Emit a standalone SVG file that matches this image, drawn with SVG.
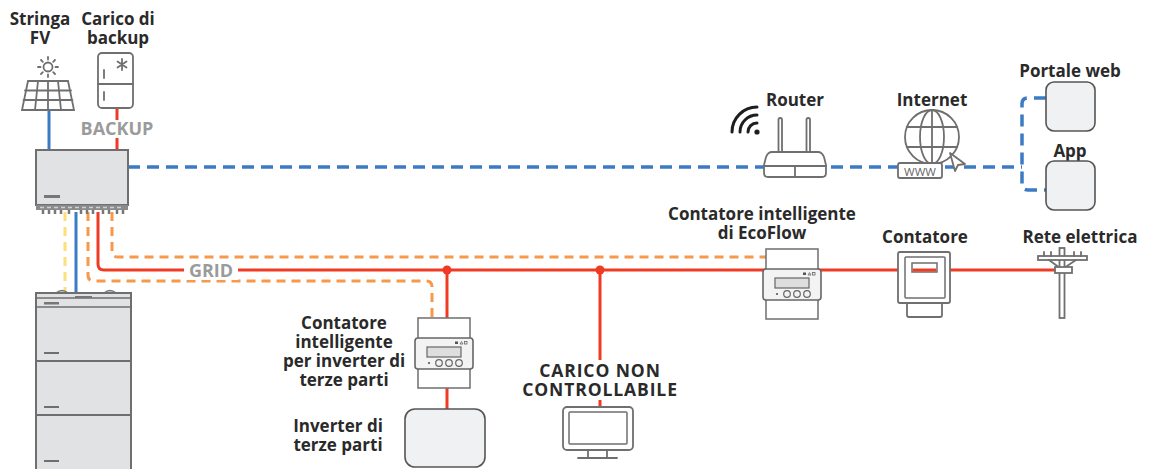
<svg xmlns="http://www.w3.org/2000/svg" xmlns:xlink="http://www.w3.org/1999/xlink" width="1149" height="469" viewBox="0 0 1149 469">
  <style>
    .lbl { font-family: "Open Sans", "Liberation Sans", sans-serif; font-weight: 700; font-size: 17px; fill: #2a2a2a; text-anchor: middle; }
    .caps { font-size: 17.5px; letter-spacing: 0.9px; }
    .tag { font-family: "Open Sans", "Liberation Sans", sans-serif; font-weight: 700; font-size: 18px; fill: #9b9b9b; text-anchor: middle; }
    .icon { fill: #ffffff; stroke: #6f6f6f; stroke-width: 1.8; }
    .line-icon { fill: none; stroke: #6f6f6f; stroke-width: 1.8; stroke-linecap: round; }
    .dev { fill: #e1e2e4; stroke: #6f6f6f; stroke-width: 2; }
    .box { fill: #f0f1f3; stroke: #555555; stroke-width: 1.6; }
    .comm { fill: none; stroke: #3b7bc4; stroke-width: 3.5; stroke-dasharray: 12 7; }
    .ctl { fill: none; stroke: #f7984a; stroke-width: 3; stroke-dasharray: 9 6; }
    .pwr { fill: none; stroke: #ef3b24; stroke-width: 3; }
    .dc { fill: none; stroke: #3b7bc4; stroke-width: 3; }
    .bat { fill: none; stroke: #fbe07c; stroke-width: 3; stroke-dasharray: 9 6; }
  </style>
  <defs>
    <!-- DIN-rail energy meter, origin at body top-left -->
    <g id="din-meter">
      <rect x="0" y="0" width="52" height="70" fill="#ffffff" stroke="#777" stroke-width="1.6"/>
      <rect x="-3" y="20" width="58" height="31" rx="3" fill="#f3f3f3" stroke="#666" stroke-width="1.6"/>
      <rect x="9" y="29" width="34" height="10" fill="#dedede" stroke="#666" stroke-width="1.2"/>
      <circle cx="11" cy="45" r="1.1" fill="#555"/>
      <circle cx="21" cy="45" r="3.3" fill="none" stroke="#666" stroke-width="1.2"/>
      <circle cx="31" cy="45" r="3.3" fill="none" stroke="#666" stroke-width="1.2"/>
      <circle cx="41" cy="45" r="3.3" fill="none" stroke="#666" stroke-width="1.2"/>
      <rect x="37" y="23.5" width="3" height="2.5" fill="#555"/>
      <path d="M42,26 L43.5,23.5 L45,26 Z" fill="none" stroke="#666" stroke-width="0.8"/>
      <rect x="46.5" y="23.5" width="2.5" height="2.5" fill="none" stroke="#666" stroke-width="0.8"/>
    </g>
  </defs>

  <!-- connectors -->
  <g id="connectors">
    <!-- PV string to inverter -->
    <path class="dc" d="M49,110 V150"/>
    <!-- backup load -->
    <path class="pwr" d="M117,108 V120 M117,138 V150"/>
    <!-- inverter to battery -->
    <path class="bat" d="M65,212 V292"/>
    <path class="dc" d="M76,212 V292"/>
    <!-- communication -->
    <path class="comm" d="M128,167 H1022"/>
    <path class="comm" d="M1046,98 H1028 Q1022,98 1022,104 V184 Q1022,190 1028,190 H1046"/>
    <!-- meter control lines -->
    <path class="ctl" d="M112,212 V251 Q112,257 118,257 H766"/>
    <path class="ctl" d="M88,212 V275 Q88,281 94,281 H426 Q432,281 432,287 V318"/>
    <!-- grid line -->
    <path class="pwr" d="M98,212 V264 Q98,270 104,270 H1058"/>
    <path class="pwr" d="M447,270 V409"/>
    <path class="pwr" d="M600,270 V360 M600,400 V408"/>
    <circle cx="447" cy="270" r="4.5" fill="#ef3b24"/>
    <circle cx="600" cy="270" r="4.5" fill="#ef3b24"/>
    <rect x="184" y="260" width="54" height="20" fill="#ffffff"/>
    <text class="tag" x="211" y="276.5">GRID</text>
    <text class="tag" x="117" y="135">BACKUP</text>
  </g>

  <!-- PV string -->
  <g id="pv-string">
    <text class="lbl" x="40" y="25">Stringa</text>
    <text class="lbl" x="40" y="44">FV</text>
    <circle cx="48" cy="67" r="4.5" class="line-icon"/>
    <path class="line-icon" d="M48,57 V59.5 M48,74.5 V77 M38,67 H40.5 M55.5,67 H58 M41,60 L42.8,61.8 M53.2,72.2 L55,74 M55,60 L53.2,61.8 M42.8,72.2 L41,74"/>
    <path class="line-icon" d="M28,81 H68 L74,110 H22 Z M25,90.5 H71 M23.5,100 H72.5 M38,81 L35,110 M48,81 V110 M58,81 L61,110"/>
  </g>

  <!-- backup load (fridge) -->
  <g id="backup-load">
    <text class="lbl" x="118" y="25">Carico di</text>
    <text class="lbl" x="118" y="44">backup</text>
    <rect x="98" y="53" width="35" height="55" rx="4" class="icon"/>
    <path class="line-icon" d="M98,84 H133 M104,70 V78 M104,92 V100"/>
    <path class="line-icon" d="M122,59 V70 M117.5,61.5 L126.5,67.5 M126.5,61.5 L117.5,67.5"/>
  </g>

  <!-- hybrid inverter -->
  <g id="inverter">
    <rect x="36" y="150" width="92" height="55" class="dev"/>
    <rect x="44" y="195" width="16" height="3" fill="#777"/>
    <rect x="36" y="205" width="92" height="5" fill="#8a8a8a"/>
    <path d="M40,207.5 H124" stroke="#d0d0d0" stroke-width="1.4" stroke-dasharray="4 3"/>
    <path d="M43,210 V214 M49,210 V214 M55,210 V214 M61,210 V214 M69,210 V214 M81,210 V214 M87,210 V214 M93,210 V214 M103,210 V214 M109,210 V214 M117,210 V214 M123,210 V214" stroke="#777" stroke-width="2.5"/>
  </g>

  <!-- battery stack -->
  <g id="battery">
    <path d="M56,293 Q62,288 68,293 M104,293 Q110,288 116,293" fill="#e1e2e4" stroke="#777" stroke-width="1.5"/>
    <rect x="36" y="293" width="95" height="180" class="dev"/>
    <path d="M36,298 H131 M36,307 H131" stroke="#6f6f6f" stroke-width="1.6"/>
    <rect x="75" y="296" width="17" height="2" fill="#777"/>
    <rect x="44" y="302" width="15" height="2.5" fill="#777"/>
    <path d="M36,361 H131 M36,415 H131" stroke="#6f6f6f" stroke-width="2"/>
    <path d="M44,353 H59 M44,407 H59 M44,461 H59" stroke="#6f6f6f" stroke-width="2"/>
  </g>

  <!-- router -->
  <g id="router">
    <text class="lbl" x="795" y="106">Router</text>
    <path d="M748,132 A9,9 0 0 1 757,123 M740,132 A17,17 0 0 1 757,115 M732,132 A25,25 0 0 1 757,107" fill="none" stroke="#1e1e1e" stroke-width="3" stroke-linecap="round"/>
    <circle cx="757" cy="132" r="2.6" fill="#1e1e1e"/>
    <rect x="778.5" y="118" width="3.5" height="36" rx="1.7" class="icon" stroke-width="1.4"/>
    <rect x="806.5" y="118" width="3.5" height="36" rx="1.7" class="icon" stroke-width="1.4"/>
    <path d="M772,152 H818 Q822,152 824,157 L826,165 V173 Q826,177 822,177 H768 Q764,177 764,173 V165 L766,157 Q768,152 772,152 Z" class="icon"/>
    <path class="line-icon" d="M764,166 H826 M795,166 V177"/>
  </g>

  <!-- internet -->
  <g id="internet">
    <text class="lbl" x="932" y="106">Internet</text>
    <circle cx="932" cy="137" r="27" class="icon"/>
    <ellipse cx="932" cy="137" rx="12" ry="27" class="line-icon"/>
    <path class="line-icon" d="M932,110 V164 M907,127 H957 M907,147 H957"/>
    <rect x="898" y="163" width="44" height="15" rx="2" class="icon" stroke-width="1.5"/>
    <text x="920" y="175.5" font-family="Open Sans, Liberation Sans, sans-serif" font-size="11.5" fill="#666" text-anchor="middle">WWW</text>
    <path d="M950,153 L965,164 L958,165 L955,171 Z" class="icon" stroke-width="1.5" stroke-linejoin="round"/>
  </g>

  <!-- web portal -->
  <g id="portale-web">
    <text class="lbl" x="1070" y="77">Portale web</text>
    <rect x="1046" y="82" width="49" height="49" rx="8" class="box"/>
  </g>

  <!-- app -->
  <g id="app">
    <text class="lbl" x="1070" y="157">App</text>
    <rect x="1046" y="161" width="49" height="49" rx="8" class="box"/>
  </g>

  <!-- EcoFlow smart meter -->
  <g id="ecoflow-meter">
    <text class="lbl" x="762" y="220">Contatore intelligente</text>
    <text class="lbl" x="762" y="239">di EcoFlow</text>
    <use href="#din-meter" xlink:href="#din-meter" x="766" y="249"/>
  </g>

  <!-- utility meter -->
  <g id="contatore">
    <text class="lbl" x="925" y="243">Contatore</text>
    <rect x="907" y="302" width="35" height="15" rx="2" class="icon"/>
    <rect x="898" y="252" width="52" height="51" rx="2" class="icon"/>
    <rect x="905" y="257" width="40" height="41" rx="1" fill="none" stroke="#6f6f6f" stroke-width="1.5"/>
    <rect x="912" y="263" width="25" height="9" fill="#ffffff" stroke="#6f6f6f" stroke-width="1.5"/>
    <path d="M912.8,270 H936.2" stroke="#ef3b24" stroke-width="3"/>
  </g>

  <!-- utility grid -->
  <g id="rete-elettrica">
    <text class="lbl" x="1080" y="243">Rete elettrica</text>
    <rect x="1059.5" y="248" width="5" height="70" class="icon" stroke-width="1.5"/>
    <rect x="1038" y="256" width="49" height="4" class="icon" stroke-width="1.5"/>
    <path class="line-icon" d="M1044,252 V256 M1051,252 V256 M1074,252 V256 M1081,252 V256" stroke-width="1.3"/>
    <path class="line-icon" d="M1049,260 L1060,268 M1076,260 L1064,268" stroke-width="1.3"/>
    <rect x="1055" y="267" width="17" height="6" class="icon" stroke-width="1.5"/>
  </g>

  <!-- third-party smart meter -->
  <g id="third-party-meter">
    <text class="lbl" x="344" y="329">Contatore</text>
    <text class="lbl" x="344" y="348">intelligente</text>
    <text class="lbl" x="344" y="367">per inverter di</text>
    <text class="lbl" x="344" y="386">terze parti</text>
    <use href="#din-meter" xlink:href="#din-meter" x="418" y="318"/>
  </g>

  <!-- third-party inverter -->
  <g id="third-party-inverter">
    <text class="lbl" x="338" y="432">Inverter di</text>
    <text class="lbl" x="338" y="451">terze parti</text>
    <rect x="405" y="409" width="80" height="58" rx="10" class="box"/>
  </g>

  <!-- uncontrolled load -->
  <g id="uncontrolled-load">
    <text class="lbl caps" x="600" y="377">CARICO NON</text>
    <text class="lbl caps" x="600" y="396">CONTROLLABILE</text>
    <rect x="563" y="407" width="70" height="43" rx="4" class="icon"/>
    <rect x="569" y="412" width="58" height="32" rx="1" fill="none" stroke="#6f6f6f" stroke-width="1.5"/>
    <path class="line-icon" d="M588,450 V458 M607,450 V458 M578,458 H617"/>
  </g>
</svg>
